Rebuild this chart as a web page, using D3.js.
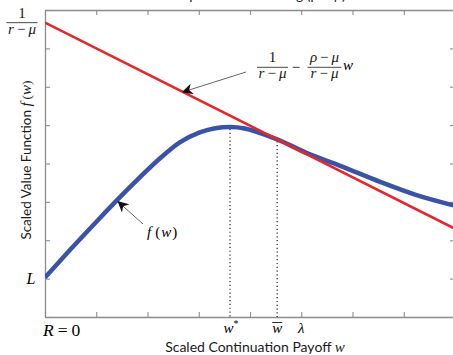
<!DOCTYPE html>
<html>
<head>
<meta charset="utf-8">
<script src="https://cdn.jsdelivr.net/npm/d3@7"></script>
<style>
  body { margin: 0; background: #fff; }
  svg { display: block; }
  .sans { font-family: Lato, "Open Sans", sans-serif; fill: #1a1a1a; }
  .math { font-family: "Liberation Serif", "DejaVu Serif", serif; font-style: italic; }
  .up { font-family: "Liberation Serif", "DejaVu Serif", serif; font-style: normal; }
</style>
</head>
<body>
<svg id="chart" width="453" height="355"></svg>
<script>
// f(w), the blue curve
const wGrid = [0, 0.49, 0.98, 1.4, 1.85, 2.24, 2.63, 3.02, 3.32, 3.61, 3.9, 4.14, 4.53, 5.11, 5.76, 6.54, 7.22, 8];
const fValues = [1.03, 1.75, 2.45, 3.04, 3.64, 4.13, 4.55, 4.81, 4.92, 4.95, 4.91, 4.82, 4.63, 4.27, 3.94, 3.52, 3.19, 2.9];
// the red line 1/(r-mu) - (rho-mu)/(r-mu) w
const lineW = [0, 8];
const lineValues = [7.67, 2.3];
// axis ticks (unlabelled) and the marked points
const xTicks = [0, 1, 2, 3, 4, 5, 6, 7, 8];
const yTicks = [0, 1, 2, 3, 4, 5, 6, 7, 8];
const wStar = 3.61;
const wBar = 4.53;
const lambda = 5;
const L = 1;

const m = { left: 45, right: 455, top: 10, bottom: 317 };
const gray = "#8c8c8c";

const svg = d3.select("#chart");

const x = d3.scaleLinear().domain([0, 8]).range([m.left, m.right]);
const y = d3.scaleLinear().domain([0, 8]).range([m.bottom, m.top]);

// title, cut off by the top edge as in the source figure
svg.append("text")
  .attr("class", "sans")
  .attr("x", 262)
  .attr("y", 0)
  .attr("text-anchor", "middle")
  .style("font-size", "14px")
  .text("Optimal Contracting (\u03c1 > \u03bc)");

// axes with inward ticks on all four sides
function styleAxis(g) {
  g.selectAll("path").attr("stroke", gray).attr("stroke-width", 1.3);
  g.selectAll("line").attr("stroke", gray).attr("stroke-width", 1.1);
  g.selectAll("text").remove();
}
svg.append("g").attr("transform", "translate(0," + m.bottom + ")")
  .call(d3.axisBottom(x).tickValues(xTicks).tickSizeInner(-5).tickSizeOuter(0)).call(styleAxis);
svg.append("g").attr("transform", "translate(0," + m.top + ")")
  .call(d3.axisTop(x).tickValues(xTicks).tickSizeInner(-5).tickSizeOuter(0)).call(styleAxis);
svg.append("g").attr("transform", "translate(" + m.left + ",0)")
  .call(d3.axisLeft(y).tickValues(yTicks).tickSizeInner(-5).tickSizeOuter(0)).call(styleAxis);
svg.append("g").attr("transform", "translate(" + m.right + ",0)")
  .call(d3.axisRight(y).tickValues(yTicks).tickSizeInner(-5).tickSizeOuter(0)).call(styleAxis);

svg.append("clipPath").attr("id", "plot")
  .append("rect").attr("x", m.left).attr("y", m.top)
  .attr("width", m.right - m.left).attr("height", m.bottom - m.top);

// dotted drops at w* and w-bar
const fAt = d3.scaleLinear().domain(wGrid).range(fValues);
[wStar, wBar].forEach(w => {
  svg.append("line")
    .attr("x1", x(w)).attr("x2", x(w))
    .attr("y1", y(fAt(w)) + 2).attr("y2", y(0))
    .attr("stroke", "#222")
    .attr("stroke-width", 1.2)
    .attr("stroke-dasharray", "1.2,2.6");
});

const plot = svg.append("g").attr("clip-path", "url(#plot)");

const curve = d3.line()
  .x((d, i) => x(wGrid[i]))
  .y(d => y(d))
  .curve(d3.curveMonotoneX);

plot.append("path")
  .attr("d", curve(fValues))
  .attr("fill", "none")
  .attr("stroke", "#3a53a6")
  .attr("stroke-width", 4.5);

const straight = d3.line()
  .x((d, i) => x(lineW[i]))
  .y(d => y(d));

plot.append("path")
  .attr("d", straight(lineValues))
  .attr("fill", "none")
  .attr("stroke", "#e5262b")
  .attr("stroke-width", 2.6);

// arrows
svg.append("defs").append("marker")
  .attr("id", "head")
  .attr("viewBox", "0 0 10 10")
  .attr("refX", 9).attr("refY", 5)
  .attr("markerWidth", 11).attr("markerHeight", 11)
  .attr("markerUnits", "userSpaceOnUse")
  .attr("orient", "auto")
  .append("path").attr("d", "M0,0 L10,5 L0,10 L3,5 Z").attr("fill", "#111");

const redAt = d3.scaleLinear().domain(lineW).range(lineValues);
const redTip = 2.69;
svg.append("line")
  .attr("x1", 246).attr("y1", 72)
  .attr("x2", x(redTip)).attr("y2", y(redAt(redTip)))
  .attr("stroke", "#666").attr("stroke-width", 1)
  .attr("marker-end", "url(#head)");

const blueTip = 1.4;
svg.append("line")
  .attr("x1", 143).attr("y1", 224)
  .attr("x2", x(blueTip) + 1.5).attr("y2", y(fAt(blueTip)) + 1.5)
  .attr("stroke", "#666").attr("stroke-width", 1)
  .attr("marker-end", "url(#head)");

// fraction helper
function fraction(cx, barY, num, den, halfWidth) {
  const g = svg.append("g").attr("class", "math").style("font-size", "15px").attr("fill", "#1a1a1a");
  const n = g.append("text").attr("x", cx).attr("y", barY - 5).attr("text-anchor", "middle");
  num(n);
  g.append("line").attr("x1", cx - halfWidth).attr("x2", cx + halfWidth)
    .attr("y1", barY).attr("y2", barY).attr("stroke", "#1a1a1a").attr("stroke-width", 0.8);
  const d = g.append("text").attr("x", cx).attr("y", barY + 11).attr("text-anchor", "middle");
  den(d);
}
const one = t => t.append("tspan").attr("class", "up").text("1");
const rMinusMu = t => {
  t.append("tspan").text("r");
  t.append("tspan").attr("class", "up").attr("dx", 3).text("\u2212");
  t.append("tspan").attr("dx", 3).text("\u03bc");
};
const rhoMinusMu = t => {
  t.append("tspan").text("\u03c1");
  t.append("tspan").attr("class", "up").attr("dx", 3).text("\u2212");
  t.append("tspan").attr("dx", 3).text("\u03bc");
};

// y label 1/(r - mu) at the red line's intercept
fraction(22, y(lineValues[0]), one, rMinusMu, 15.5);

// formula of the red line
fraction(272.5, 67.3, one, rMinusMu, 15.5);
svg.append("text").attr("class", "up").attr("x", 296).attr("y", 72)
  .attr("text-anchor", "middle").style("font-size", "15px").text("\u2212");
fraction(324.5, 67.3, rhoMinusMu, rMinusMu, 17);
svg.append("text").attr("class", "math").attr("x", 343).attr("y", 70)
  .style("font-size", "15px").text("w");

// f(w) label
const fw = svg.append("text").attr("class", "math").attr("x", 147).attr("y", 237).style("font-size", "15px");
fw.append("tspan").text("f");
fw.append("tspan").attr("class", "up").attr("dx", 4).text("(");
fw.append("tspan").attr("dx", 1).text("w");
fw.append("tspan").attr("class", "up").attr("dx", 1).text(")");

// L on the y axis
svg.append("text").attr("class", "math").attr("x", 31).attr("y", y(L) + 5.5)
  .attr("text-anchor", "middle").style("font-size", "16px").text("L");

// x-axis marks
const r0 = svg.append("text").attr("x", 43).attr("y", 336).style("font-size", "17.5px");
r0.append("tspan").attr("class", "math").text("R");
r0.append("tspan").attr("class", "up").attr("dx", 4).text("=");
r0.append("tspan").attr("class", "up").attr("dx", 4).text("0");

const ws = svg.append("text").attr("class", "math").attr("x", x(wStar) + 1).attr("y", 333)
  .attr("text-anchor", "middle").style("font-size", "15px");
ws.append("tspan").text("w");
ws.append("tspan").attr("class", "up").attr("dy", -6).style("font-size", "10px").text("*");

svg.append("text").attr("class", "math").attr("x", x(wBar)).attr("y", 333)
  .attr("text-anchor", "middle").style("font-size", "15px").text("w");
svg.append("line").attr("x1", x(wBar) - 5).attr("x2", x(wBar) + 5)
  .attr("y1", 322.5).attr("y2", 322.5).attr("stroke", "#1a1a1a").attr("stroke-width", 0.9);

svg.append("text").attr("class", "math").attr("x", x(lambda)).attr("y", 333)
  .attr("text-anchor", "middle").style("font-size", "15px").text("\u03bb");

// axis titles
const xt = svg.append("text").attr("class", "sans").attr("x", 255).attr("y", 352)
  .attr("text-anchor", "middle").style("font-size", "14px");
xt.append("tspan").text("Scaled Continuation Payoff ");
xt.append("tspan").attr("class", "math").style("font-size", "15px").text("w");

const yt = svg.append("text").attr("class", "sans")
  .attr("transform", "translate(31,160) rotate(-90)")
  .attr("text-anchor", "middle").style("font-size", "13.5px");
yt.append("tspan").text("Scaled Value Function ");
yt.append("tspan").attr("class", "math").style("font-size", "15px").text("f");
yt.append("tspan").attr("class", "up").attr("dx", 3).text("(");
yt.append("tspan").attr("class", "math").style("font-size", "15px").text("w");
yt.append("tspan").attr("class", "up").text(")");
</script>
</body>
</html>
